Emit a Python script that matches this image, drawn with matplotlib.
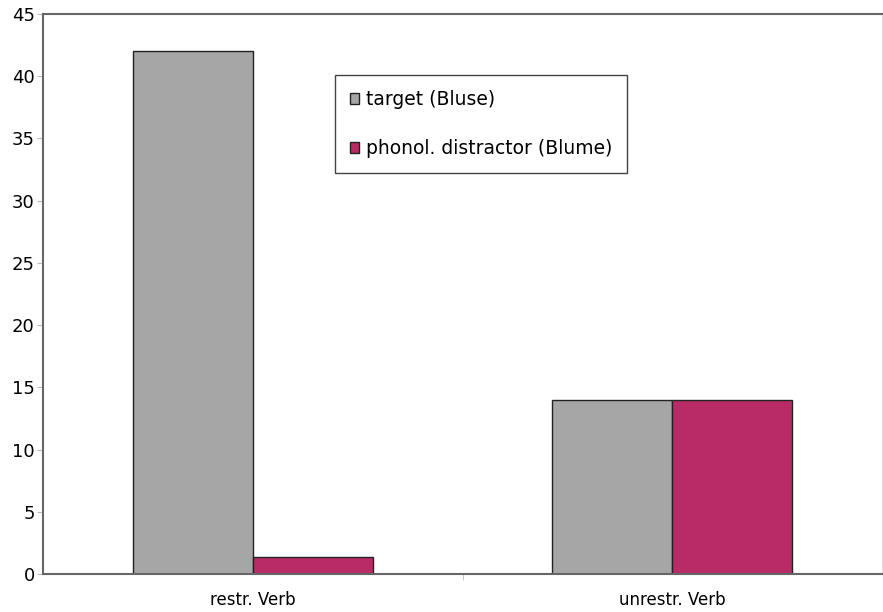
import numpy as np
import matplotlib
matplotlib.use('Agg')
import matplotlib.pyplot as plt

categories = ['restr. Verb', 'unrestr. Verb']
target = [42, 14]
distractor = [1.4, 14]
series_names = ['target (Bluse)', 'phonol. distractor (Blume)']

plt.rcParams['font.family'] = 'DejaVu Sans'

fig = plt.figure(figsize=(8.83, 6.12), dpi=100)
ax = fig.add_axes([43/883, 38/612, 839/883, 560/612])

x = np.arange(len(categories))
w = 120/420
ax.bar(x - w/2, target, w, color='#a6a6a6', edgecolor='#222222', linewidth=1.0,
       label=series_names[0])
ax.bar(x + w/2, distractor, w, color='#b82b66', edgecolor='#222222', linewidth=1.0,
       label=series_names[1])

ax.set_xlim(-0.5, 1.5)
ax.set_ylim(0, 45)
ax.set_yticks(range(0, 46, 5))
ax.set_xticks(x)
ax.set_xticklabels(categories)
ax.set_xticks([0.5], minor=True)
ax.tick_params(axis='x', which='major', length=0, labelsize=12, pad=12)
ax.tick_params(axis='x', which='minor', length=4, color='#bbbbbb')
ax.tick_params(axis='y', length=4, color='#bbbbbb', labelsize=13, pad=2)

for side in ['left', 'top', 'bottom']:
    ax.spines[side].set_color('#666666')
    ax.spines[side].set_linewidth(1.5)
ax.spines['right'].set_color('#dddddd')

leg = fig.legend(loc='upper left', bbox_to_anchor=(335/883, 1 - 75/612),
                 fontsize=13.5, handlelength=0.5, handleheight=0.5,
                 handletextpad=0.35, labelspacing=1.6, borderpad=0.8,
                 borderaxespad=0, fancybox=False, framealpha=1,
                 edgecolor='#444444')
leg.get_frame().set_linewidth(1.0)

fig.savefig('out.png', dpi=100)
